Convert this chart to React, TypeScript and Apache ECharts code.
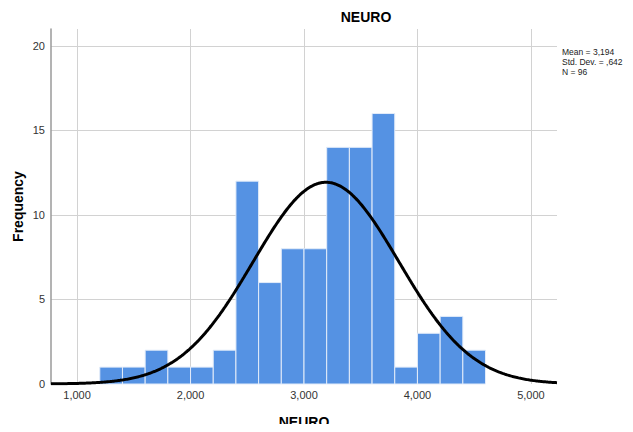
import React, { useEffect, useRef } from "react";
import * as echarts from "echarts";

// Histogram of NEURO scores, bins of width 0,2 starting at 1,2
const binStart = 1.2;
const binWidth = 0.2;
const counts = [1, 1, 2, 1, 1, 2, 12, 6, 8, 8, 14, 14, 16, 1, 3, 4, 2];

// Summary statistics shown beside the plot
const mean = 3.194;
const stdDev = 0.642;
const n = 96;
const statLines = ["Mean = 3,194", "Std. Dev. = ,642", "N = 96"];

const xMin = 0.77;
const xMax = 5.23;
const yMax = 21;

const FONT = "Arial, 'Liberation Sans', sans-serif";

const fmtComma = (v: number) => v.toFixed(3).replace(".", ",");

export default function App() {
  const ref = useRef<HTMLDivElement>(null);

  useEffect(() => {
    if (!ref.current) return;
    const chart = echarts.init(ref.current, undefined, { renderer: "svg" });

    const barData = counts.map((c, i) => {
      const x0 = +(binStart + i * binWidth).toFixed(4);
      const x1 = +(x0 + binWidth).toFixed(4);
      return [x0, x1, c];
    });

    // Fitted normal curve, scaled to counts per bin
    const curve: number[][] = [];
    const scale = (n * binWidth) / (stdDev * Math.sqrt(2 * Math.PI));
    for (let k = 0; k <= 446; k++) {
      const x = xMin + k * 0.01;
      const z = (x - mean) / stdDev;
      curve.push([x, scale * Math.exp(-0.5 * z * z)]);
    }

    chart.setOption({
      animation: false,
      backgroundColor: "#ffffff",
      grid: { left: 51, right: 76, top: 29, bottom: 48, containLabel: false, outerBoundsMode: "none" },
      xAxis: {
        type: "value",
        min: xMin,
        max: xMax,
        name: "NEURO",
        nameLocation: "middle",
        nameGap: 31,
        nameMoveOverlap: false,
        nameTextStyle: { fontFamily: FONT, fontSize: 14, fontWeight: "bold", color: "#000" },
        axisLine: { show: false },
        axisTick: { show: false },
        axisLabel: {
          showMinLabel: false,
          showMaxLabel: false,
          margin: 5,
          fontFamily: FONT,
          fontSize: 11,
          color: "#333",
          formatter: (v: number) => fmtComma(v),
        },
        splitLine: {
          show: true,
          showMinLine: false,
          showMaxLine: false,
          lineStyle: { color: "#d2d2d2", width: 1 },
        },
      },
      yAxis: {
        type: "value",
        min: 0,
        max: yMax,
        interval: 5,
        name: "Frequency",
        nameLocation: "middle",
        nameGap: 26,
        nameMoveOverlap: false,
        nameTextStyle: { fontFamily: FONT, fontSize: 14, fontWeight: "bold", color: "#000" },
        axisLine: { show: true, lineStyle: { color: "#9a9a9a", width: 1.5 } },
        axisTick: { show: false },
        axisLabel: {
          showMaxLabel: false,
          margin: 6,
          fontFamily: FONT,
          fontSize: 11,
          color: "#333",
        },
        splitLine: {
          show: true,
          showMinLine: false,
          showMaxLine: false,
          lineStyle: { color: "#d2d2d2", width: 1 },
        },
      },
      series: [
        {
          type: "custom",
          data: barData,
          encode: { x: [0, 1], y: 2 },
          renderItem: (params: any, api: any) => {
            const p0 = api.coord([api.value(0), 0]);
            const p1 = api.coord([api.value(1), api.value(2)]);
            return {
              type: "rect",
              shape: { x: p0[0], y: p1[1], width: p1[0] - p0[0], height: p0[1] - p1[1] },
              style: { fill: "#5592e3", stroke: "#e3ecf9", lineWidth: 1 },
            };
          },
          z: 2,
        },
        {
          type: "line",
          data: curve,
          showSymbol: false,
          smooth: false,
          lineStyle: { color: "#000", width: 3 },
          z: 3,
        },
      ],
      graphic: [
        {
          type: "text",
          x: 366,
          y: 17,
          style: {
            text: "NEURO",
            fontFamily: FONT,
            fontSize: 14,
            fontWeight: "bold",
            fill: "#000",
            textAlign: "center",
            textVerticalAlign: "middle",
          },
        },
        {
          type: "text",
          x: 562,
          y: 47,
          style: {
            text: statLines.join("\n"),
            fontFamily: FONT,
            fontSize: 8.5,
            lineHeight: 10,
            fill: "#222",
            textAlign: "left",
          },
        },
      ],
    });

    return () => chart.dispose();
  }, []);

  return <div ref={ref} style={{ width: 633, height: 432, margin: -8 }} />;
}
